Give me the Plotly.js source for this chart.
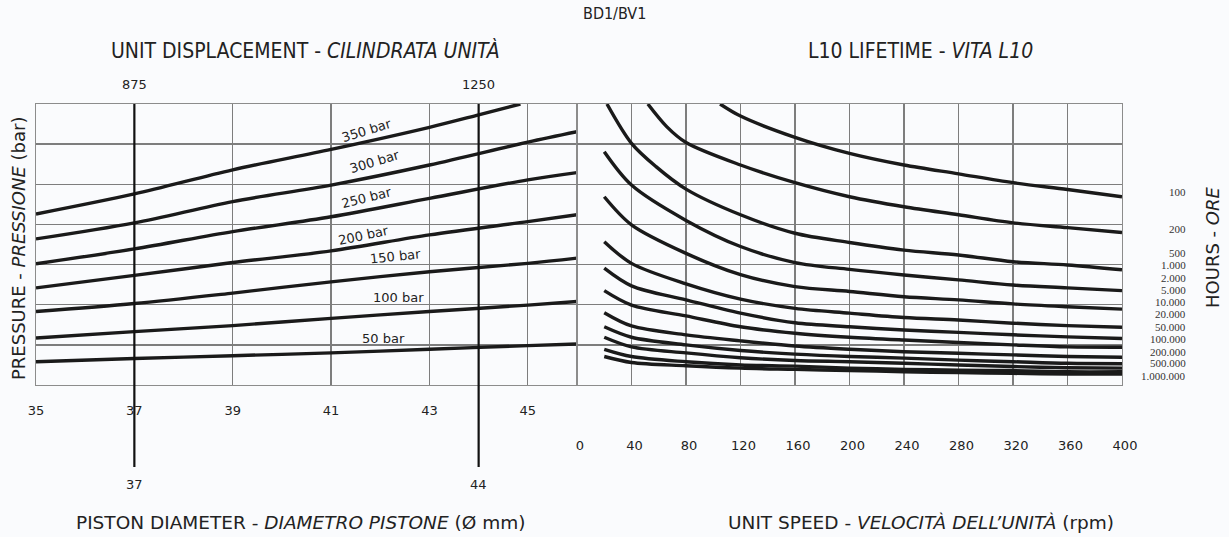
<!DOCTYPE html>
<html><head><meta charset="utf-8">
<script src="https://cdn.plot.ly/plotly-3.0.1.min.js"></script>
<style>html,body{margin:0;padding:0;background:#fafbfd;}#chart{width:1229px;height:537px;}</style>
</head><body><div id="chart"></div>
<script>
// ---------- DATA ----------
// Left panel: piston diameter (mm) -> curves per pressure (grid units, 0..7)
const diameters = [35, 37, 39, 41, 43, 45, 46];
const diameters350 = [35, 37, 39, 41, 43, 44, 44.85];
const pressureNames = ['350 bar', '300 bar', '250 bar', '200 bar', '150 bar', '100 bar', '50 bar'];
const p350 = [4.26, 4.76, 5.36, 5.87, 6.42, 6.73, 7.0];
const p300 = [3.64, 4.04, 4.57, 4.98, 5.48, 6.05, 6.31];
const p250 = [3.02, 3.39, 3.82, 4.19, 4.65, 5.11, 5.29];
const p200 = [2.42, 2.73, 3.05, 3.34, 3.74, 4.07, 4.24];
const p150 = [1.83, 2.03, 2.29, 2.57, 2.82, 3.03, 3.16];
const p100 = [1.17, 1.33, 1.48, 1.66, 1.83, 1.99, 2.08];
const p50  = [0.58, 0.66, 0.73, 0.80, 0.89, 0.98, 1.02];
const diameterTicks = [35, 37, 39, 41, 43, 45];
const markedDiameters = [37, 44];
const markedDisplacements = ['875', '1250'];

// Right panel: unit speed (rpm) -> L10 lifetime curves (grid units, 0..7)
const hoursNames = ['100', '200', '500', '1.000', '2.000', '5.000', '10.000', '20.000', '50.000', '100.000', '200.000', '500.000', '1.000.000'];
const speedsH100 = [105, 120, 160, 200, 240, 280, 320, 360, 400];
const h100 = [7.0, 6.70, 6.17, 5.77, 5.48, 5.26, 5.04, 4.87, 4.69];
const speedsH200 = [52, 66, 80, 120, 160, 200, 240, 280, 320, 360, 400];
const h200 = [7.0, 6.43, 6.04, 5.48, 5.04, 4.69, 4.44, 4.24, 4.04, 3.92, 3.80];
const speedsH500 = [22, 40, 58, 80, 120, 160, 200, 240, 280, 320, 360, 400];
const h500 = [7.0, 6.02, 5.44, 4.88, 4.24, 3.78, 3.55, 3.36, 3.24, 3.07, 2.99, 2.87];
const speeds = [20, 40, 80, 120, 160, 200, 240, 280, 320, 360, 400];
const h1k   = [5.81, 4.98, 4.10, 3.45, 3.05, 2.88, 2.74, 2.62, 2.49, 2.42, 2.35];
const h2k   = [4.69, 3.99, 3.28, 2.75, 2.45, 2.33, 2.20, 2.12, 2.02, 1.95, 1.89];
const h5k   = [3.57, 3.03, 2.52, 2.14, 1.91, 1.79, 1.68, 1.62, 1.54, 1.48, 1.44];
const h10k  = [2.91, 2.47, 2.12, 1.79, 1.55, 1.45, 1.37, 1.31, 1.25, 1.20, 1.16];
const h20k  = [2.35, 1.99, 1.72, 1.45, 1.29, 1.19, 1.12, 1.06, 1.00, 0.95, 0.94];
const h50k  = [1.80, 1.47, 1.25, 1.10, 0.97, 0.89, 0.83, 0.79, 0.75, 0.71, 0.69];
const h100k = [1.45, 1.19, 1.00, 0.86, 0.77, 0.71, 0.67, 0.62, 0.58, 0.54, 0.53];
const h200k = [1.19, 0.95, 0.80, 0.68, 0.61, 0.58, 0.54, 0.50, 0.46, 0.43, 0.42];
const h500k = [0.89, 0.71, 0.58, 0.50, 0.47, 0.42, 0.39, 0.37, 0.36, 0.33, 0.33];
const h1M   = [0.71, 0.56, 0.48, 0.42, 0.39, 0.36, 0.33, 0.31, 0.29, 0.27, 0.27];
const speedTicks = [0, 40, 80, 120, 160, 200, 240, 280, 320, 360, 400];

// ---------- LAYOUT HELPERS (positions / styles) ----------
const W = 1229, H = 537;
const px = v => v / W, py = v => 1 - v / H;
const barLabelX = [41.72, 41.89, 41.73, 41.65, 42.30, 42.38, 42.06];
const barLabelY = [6.35, 5.58, 4.68, 3.72, 3.20, 2.19, 1.16];
const barLabelAngle = [-17, -17, -14, -12, -6, 0, 0];
const hoursLabelY = [4.82, 3.89, 3.29, 2.99, 2.67, 2.37, 2.06, 1.76, 1.45, 1.15, 0.83, 0.54, 0.23];

const LINE = {color: '#1a1a1a', width: 3.4, shape: 'spline', smoothing: 0.9};
const traces = [];
const leftX = [diameters350, diameters, diameters, diameters, diameters, diameters, diameters];
[p350, p300, p250, p200, p150, p100, p50].forEach((ys, i) => {
  traces.push({type: 'scatter', mode: 'lines', x: leftX[i], y: ys, name: pressureNames[i],
    xaxis: 'x', yaxis: 'y', line: LINE, hoverinfo: 'skip'});
});
const rightX = [speedsH100, speedsH200, speedsH500].concat(Array(10).fill(speeds));
[h100, h200, h500, h1k, h2k, h5k, h10k, h20k, h50k, h100k, h200k, h500k, h1M].forEach((ys, i) => {
  traces.push({type: 'scatter', mode: 'lines', x: rightX[i], y: ys, name: hoursNames[i] + ' h',
    xaxis: 'x2', yaxis: 'y2', line: LINE, hoverinfo: 'skip'});
});

const GRID = '#7d7d7d', FRAME = '#8c8c8c';
const yDom = [py(385), py(104)];
const axisBase = {showgrid: true, gridcolor: GRID, gridwidth: 1.3, zeroline: false,
  showline: true, linecolor: FRAME, linewidth: 1.3, mirror: true, ticks: '',
  fixedrange: true};
const tickFont = {family: 'DejaVu Sans, Verdana, sans-serif', size: 13, color: '#222'};
const condensed = 'DejaVu Sans Condensed, DejaVu Sans, sans-serif';
const plain = 'DejaVu Sans, Verdana, sans-serif';

const annotations = [];
const ann = (o) => annotations.push(Object.assign({showarrow: false, xref: 'paper', yref: 'paper',
  xanchor: 'center', yanchor: 'middle'}, o));
ann({x: px(614), y: py(14), text: 'BD1/BV1', font: {family: condensed, size: 16, color: '#222'}});
ann({x: px(305), y: py(50), text: 'UNIT DISPLACEMENT - <i>CILINDRATA UNITÀ</i>', font: {family: condensed, size: 21, color: '#222'}});
ann({x: px(921), y: py(51), text: 'L10 LIFETIME - <i>VITA L10</i>', font: {family: condensed, size: 21, color: '#222'}});
ann({x: px(300), y: py(522), text: 'PISTON DIAMETER - <i>DIAMETRO PISTONE</i> (Ø mm)', font: {family: plain, size: 18.5, color: '#222'}});
ann({x: px(921), y: py(522), text: 'UNIT SPEED - <i>VELOCITÀ DELL\u2019UNITÀ</i> (rpm)', font: {family: plain, size: 18.5, color: '#222'}});
ann({x: px(18), y: py(249), text: 'PRESSURE - <i>PRESSIONE</i> (bar)', textangle: -90, font: {family: plain, size: 18, color: '#222'}});
ann({x: px(1213), y: py(248), text: 'HOURS - <i>ORE</i>', textangle: -90, font: {family: plain, size: 18, color: '#222'}});
markedDiameters.forEach((d, i) => {
  ann({xref: 'x', x: d, y: py(84), text: markedDisplacements[i], font: {family: plain, size: 13, color: '#222'}});
  ann({xref: 'x', x: d, y: py(484), text: String(d), font: {family: plain, size: 13, color: '#222'}});
});
pressureNames.forEach((t, i) => {
  annotations.push({xref: 'x', yref: 'y', x: barLabelX[i], y: barLabelY[i], text: t, showarrow: false,
    xanchor: 'center', yanchor: 'middle',
    textangle: barLabelAngle[i], font: {family: plain, size: 13, color: '#222'}});
});
hoursNames.forEach((t, i) => {
  annotations.push({xref: 'paper', yref: 'y2', x: px(1188), xanchor: 'right', yanchor: 'middle', y: hoursLabelY[i], text: t,
    showarrow: false, font: {family: 'Liberation Serif, DejaVu Serif, serif', size: 11, color: '#333'}});
});

const shapes = markedDiameters.map(d => ({type: 'line', xref: 'x', yref: 'paper', x0: d, x1: d,
  y0: py(467), y1: py(104), line: {color: '#111', width: 2.2}}));

const layout = {
  width: W, height: H, autosize: false,
  margin: {l: 0, r: 0, t: 0, b: 0, pad: 0},
  paper_bgcolor: '#fafbfd', plot_bgcolor: '#fafbfd',
  showlegend: false,
  xaxis: Object.assign({}, axisBase, {domain: [px(36), px(577)], range: [35, 46],
    tickvals: diameterTicks, ticktext: diameterTicks.map(String), tickfont: tickFont,
    ticklabelstandoff: 13, anchor: 'y'}),
  yaxis: Object.assign({}, axisBase, {domain: yDom, range: [0, 7], dtick: 1, tick0: 0,
    showticklabels: false, anchor: 'x'}),
  xaxis2: Object.assign({}, axisBase, {domain: [px(577), px(1122)], range: [0, 400],
    tickvals: speedTicks, ticktext: speedTicks.map(String), tickfont: tickFont,
    ticklabelstandoff: 48, ticklabelshift: 3, anchor: 'y2'}),
  yaxis2: Object.assign({}, axisBase, {domain: yDom, range: [0, 7], dtick: 1, tick0: 0,
    showticklabels: false, anchor: 'x2'}),
  annotations: annotations,
  shapes: shapes
};
Plotly.newPlot('chart', traces, layout, {staticPlot: true, displayModeBar: false});
</script>
</body></html>
